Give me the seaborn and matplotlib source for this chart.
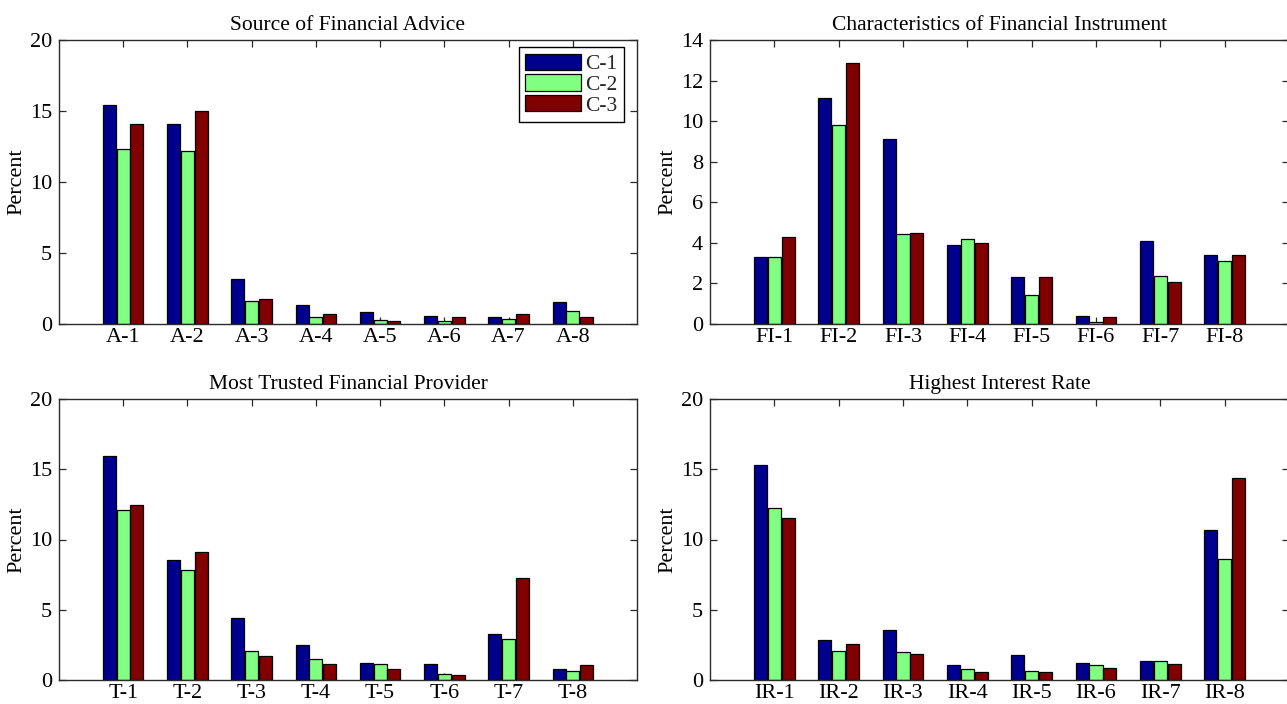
import numpy as np
import pandas as pd
import matplotlib
matplotlib.use("Agg")
import matplotlib.pyplot as plt
import seaborn as sns

# ---------------- data ----------------
series = ["C-1", "C-2", "C-3"]
colors = ["#00008F", "#80FF80", "#800000"]

advice_cats = ["A-1", "A-2", "A-3", "A-4", "A-5", "A-6", "A-7", "A-8"]
advice_c1 = [15.4, 14.1, 3.2, 1.34, 0.82, 0.54, 0.47, 1.58]
advice_c2 = [12.3, 12.2, 1.65, 0.52, 0.30, 0.20, 0.35, 0.90]
advice_c3 = [14.05, 15.0, 1.76, 0.70, 0.19, 0.47, 0.70, 0.47]

instr_cats = ["FI-1", "FI-2", "FI-3", "FI-4", "FI-5", "FI-6", "FI-7", "FI-8"]
instr_c1 = [3.28, 11.15, 9.11, 3.89, 2.32, 0.38, 4.09, 3.40]
instr_c2 = [3.28, 9.82, 4.42, 4.19, 1.41, 0.12, 2.37, 3.10]
instr_c3 = [4.30, 12.87, 4.50, 4.00, 2.32, 0.33, 2.07, 3.40]

trust_cats = ["T-1", "T-2", "T-3", "T-4", "T-5", "T-6", "T-7", "T-8"]
trust_c1 = [15.93, 8.52, 4.40, 2.52, 1.22, 1.13, 3.29, 0.78]
trust_c2 = [12.12, 7.84, 2.05, 1.46, 1.13, 0.42, 2.94, 0.66]
trust_c3 = [12.47, 9.13, 1.72, 1.12, 0.78, 0.35, 7.29, 1.06]

rate_cats = ["IR-1", "IR-2", "IR-3", "IR-4", "IR-5", "IR-6", "IR-7", "IR-8"]
rate_c1 = [15.29, 2.82, 3.53, 1.06, 1.81, 1.22, 1.36, 10.66]
rate_c2 = [12.24, 2.07, 1.98, 0.75, 0.66, 1.04, 1.36, 8.59]
rate_c3 = [11.53, 2.59, 1.88, 0.59, 0.59, 0.85, 1.13, 14.35]

titles = ["Source of Financial Advice", "Characteristics of Financial Instrument",
          "Most Trusted Financial Provider", "Highest Interest Rate"]


def long_df(cats, c1, c2, c3):
    rows = []
    for s, vals in zip(series, [c1, c2, c3]):
        for c, v in zip(cats, vals):
            rows.append({"cat": c, "series": s, "val": v})
    return pd.DataFrame(rows)


panels = [
    (long_df(advice_cats, advice_c1, advice_c2, advice_c3), advice_cats, 20, [0, 5, 10, 15, 20]),
    (long_df(instr_cats, instr_c1, instr_c2, instr_c3), instr_cats, 14, [0, 2, 4, 6, 8, 10, 12, 14]),
    (long_df(trust_cats, trust_c1, trust_c2, trust_c3), trust_cats, 20, [0, 5, 10, 15, 20]),
    (long_df(rate_cats, rate_c1, rate_c2, rate_c3), rate_cats, 20, [0, 5, 10, 15, 20]),
]

# ---------------- style ----------------
sns.set_theme(style="ticks")
plt.rcParams["font.family"] = ["Liberation Serif", "DejaVu Serif"]

W, H = 1287, 704
fig = plt.figure(figsize=(W / 100, H / 100), dpi=100)
fig.patch.set_facecolor("white")

# axes rectangles in pixels: (left, top, right, bottom)
rects = [(59, 40, 637, 324), (710, 40, 1289, 324),
         (59, 399, 637, 680), (710, 399, 1289, 680)]

spine_col = "#2a2a2a"
for i, ((df, cats, ymax, yt), (l, t, r, b)) in enumerate(zip(panels, rects)):
    ax = fig.add_axes([l / W, 1 - b / H, (r - l) / W, (b - t) / H])
    sns.barplot(data=df, x="cat", y="val", hue="series", hue_order=series,
                order=cats, palette=colors, saturation=1, width=0.64, gap=0.05,
                edgecolor="black", linewidth=0.9, errorbar=None,
                legend=(i == 0), ax=ax)
    ax.set_xlim(-1, 8)
    ax.set_ylim(0, ymax)
    ax.set_yticks(yt)
    ax.set_yticklabels([str(v) for v in yt])
    ax.tick_params(axis="both", direction="in", top=True, right=True,
                   length=5, width=0.9, color=spine_col, labelsize=16,
                   labelcolor="black")
    ax.tick_params(axis="y", pad=5)
    ax.tick_params(axis="x", pad=3)
    ax.set_xlabel("")
    ax.set_ylabel("Percent", fontsize=16, labelpad=2.5, color="black")
    ax.set_title(titles[i], fontsize=15.5, pad=7, color="black")
    for sp in ax.spines.values():
        sp.set_color(spine_col)
        sp.set_linewidth(1.0)
    if i == 0:
        leg = ax.get_legend()
        handles = leg.legend_handles
        labels = [tx.get_text() for tx in leg.get_texts()]
        leg.remove()
        lg = ax.legend(handles, labels, loc="upper right",
                       bbox_to_anchor=(0.978, 0.975), borderaxespad=0,
                       fontsize=15.5, frameon=True, fancybox=False,
                       edgecolor="black", framealpha=1, handlelength=2.6,
                       handleheight=0.8, labelspacing=0.0, borderpad=0.3,
                       handletextpad=0.2)
        lg.get_frame().set_linewidth(1.0)

fig.savefig("out.png", dpi=100, facecolor="white")
